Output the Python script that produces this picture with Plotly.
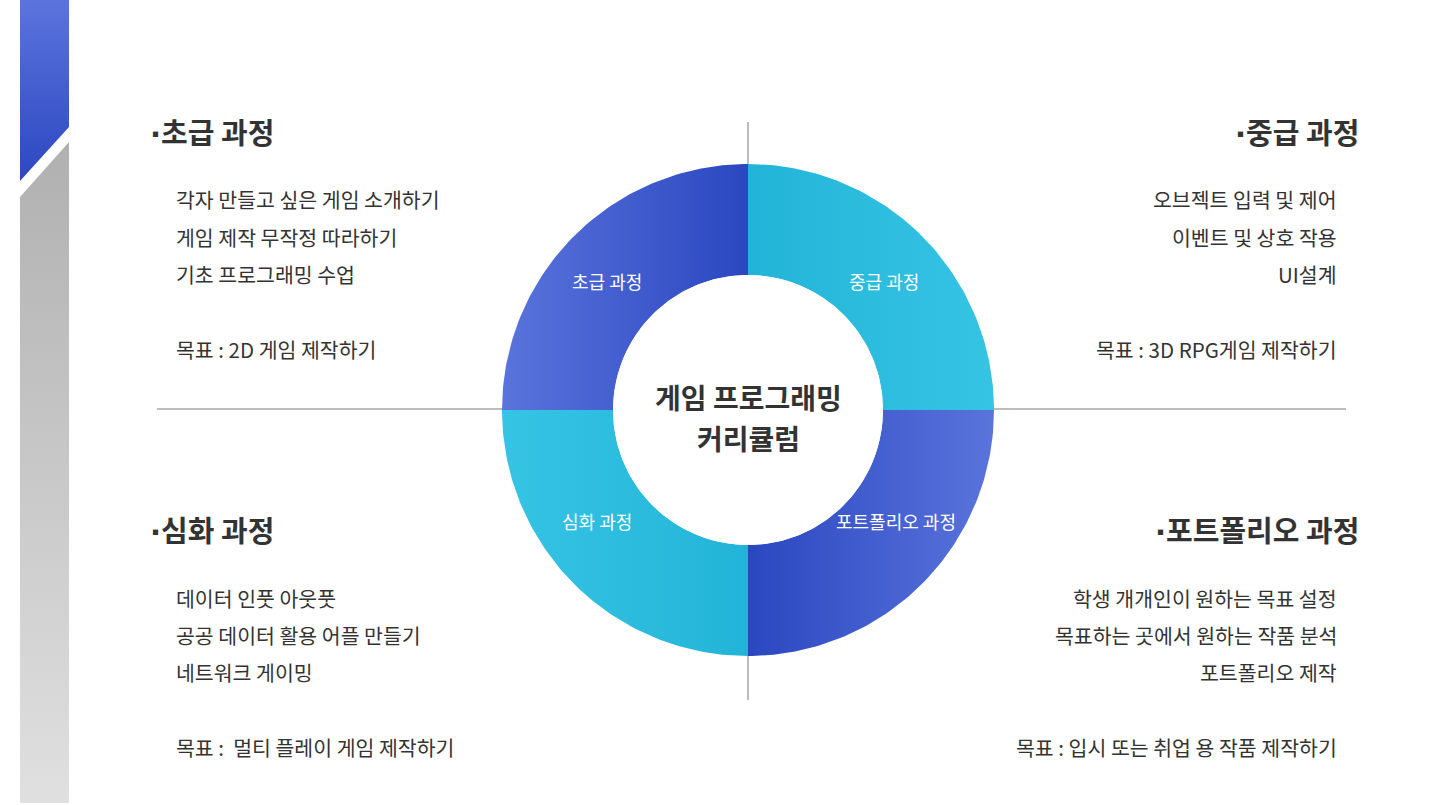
import math
import plotly.graph_objects as go

# ---------------- data ----------------
stages = ["중급 과정", "포트폴리오 과정", "심화 과정", "초급 과정"]  # clockwise from 12 o'clock
stage_values = [1, 1, 1, 1]
center_title = ["게임 프로그래밍", "커리큘럼"]

headings = ["초급 과정", "중급 과정", "심화 과정", "포트폴리오 과정"]
beginner_items = ["각자 만들고 싶은 게임 소개하기", "게임 제작 무작정 따라하기", "기초 프로그래밍 수업"]
beginner_goal = "목표 : 2D 게임 제작하기"
intermediate_items = ["오브젝트 입력 및 제어", "이벤트 및 상호 작용", "UI설계"]
intermediate_goal = "목표 : 3D RPG게임 제작하기"
advanced_items = ["데이터 인풋 아웃풋", "공공 데이터 활용 어플 만들기", "네트워크 게이밍"]
advanced_goal = "목표 :  멀티 플레이 게임 제작하기"
portfolio_items = ["학생 개개인이 원하는 목표 설정", "목표하는 곳에서 원하는 작품 분석", "포트폴리오 제작"]
portfolio_goal = "목표 : 입시 또는 취업 용 작품 제작하기"

# ---------------- styles ----------------
W, H = 1430, 805
CX, CY = 748, 410
R_OUT, R_IN = 246, 135
DARK_L, DARK_D = "#5a74dc", "#2b47c0"
CYAN_D, CYAN_L = "#22b4d8", "#36c4e4"
stage_gradients = {
    "중급 과정": [[0, CYAN_D], [1, CYAN_L]],
    "포트폴리오 과정": [[0, DARK_D], [1, DARK_L]],
    "심화 과정": [[0, CYAN_L], [1, CYAN_D]],
    "초급 과정": [[0, DARK_L], [1, DARK_D]],
}
label_pos = {
    "중급 과정": (884, 281),
    "포트폴리오 과정": (896, 521),
    "심화 과정": (597, 521),
    "초급 과정": (607, 281),
}
FONT = "Noto Sans CJK KR"
TXT = "#333333"
DOT = '<span style="font-family:DejaVu Sans">·</span>'

fig = go.Figure()

# sidebar decoration
fig.add_trace(go.Scatter(
    x=[20, 69, 69, 20, 20], y=[0, 0, 127, 181, 0], mode="lines", line=dict(width=0),
    fill="toself", fillgradient=dict(type="vertical", colorscale=[[0, "#2c47c1"], [1, "#5b74dd"]]),
    hoverinfo="skip", showlegend=False))
fig.add_trace(go.Scatter(
    x=[20, 69, 69, 20, 20], y=[197, 142, 803, 803, 197], mode="lines", line=dict(width=0),
    fill="toself", fillgradient=dict(type="vertical", colorscale=[[0, "#e0e0e0"], [1, "#b0b0b0"]]),
    hoverinfo="skip", showlegend=False))

# cross lines (beneath the donut)
fig.add_shape(type="line", x0=157, x1=1346, y0=409, y1=409, layer="below",
              line=dict(color="#7a7a7a", width=1))
fig.add_shape(type="line", x0=748, x1=748, y0=122, y1=700, layer="below",
              line=dict(color="#7a7a7a", width=1))

# donut segments from values
total = sum(stage_values)
cum = 0
n = 90
for name, v in zip(stages, stage_values):
    a0 = 90 - 360 * cum / total
    a1 = 90 - 360 * (cum + v) / total
    cum += v
    angs = [a0 + (a1 - a0) * i / n for i in range(n + 1)]
    xs = [CX + R_OUT * math.cos(math.radians(a)) for a in angs]
    ys = [CY - R_OUT * math.sin(math.radians(a)) for a in angs]
    xs += [CX + R_IN * math.cos(math.radians(a)) for a in reversed(angs)]
    ys += [CY - R_IN * math.sin(math.radians(a)) for a in reversed(angs)]
    xs.append(xs[0]); ys.append(ys[0])
    fig.add_trace(go.Scatter(
        x=xs, y=ys, mode="lines", line=dict(width=0), fill="toself",
        fillgradient=dict(type="horizontal", colorscale=stage_gradients[name]),
        name=name, hoverinfo="name", showlegend=False))
    lx, ly = label_pos[name]
    fig.add_annotation(x=lx, y=ly, text=name, showarrow=False, xanchor="center", yanchor="middle",
                       font=dict(family=FONT, size=18, color="white"))

# white hole
hole_angs = [360 * i / 240 for i in range(241)]
fig.add_trace(go.Scatter(
    x=[CX + R_IN * math.cos(math.radians(a)) for a in hole_angs],
    y=[CY - R_IN * math.sin(math.radians(a)) for a in hole_angs],
    mode="lines", line=dict(width=0), fill="toself", fillcolor="white",
    hoverinfo="skip", showlegend=False))

# center title
for t, yy in zip(center_title, [397, 438]):
    fig.add_annotation(x=CX, y=yy, text=f"<b>{t}</b>", showarrow=False, xanchor="center", yanchor="middle",
                       font=dict(family=FONT, size=28, color=TXT))

# quadrant texts
def block(heading, items, goal, hx, bx, hy, ys, anchor):
    fig.add_annotation(x=hx, y=hy, text=f"<b>{DOT}{heading}</b>", showarrow=False, xanchor=anchor,
                       yanchor="middle", font=dict(family=FONT, size=29, color=TXT))
    for t, yy in zip(items + [goal], ys):
        fig.add_annotation(x=bx, y=yy, text=t, showarrow=False, xanchor=anchor, yanchor="middle",
                           font=dict(family=FONT, size=20.5, color=TXT))

block(headings[0], beginner_items, beginner_goal, 148, 174, 131, [199, 237, 274, 349], "left")
block(headings[1], intermediate_items, intermediate_goal, 1361, 1339, 131, [199, 237, 274, 349], "right")
block(headings[2], advanced_items, advanced_goal, 148, 174, 529, [598, 635, 672, 747], "left")
block(headings[3], portfolio_items, portfolio_goal, 1361, 1339, 529, [598, 635, 672, 747], "right")

fig.update_layout(
    width=W, height=H, margin=dict(l=0, r=0, t=0, b=0),
    paper_bgcolor="white", plot_bgcolor="white",
    xaxis=dict(range=[0, W], visible=False, fixedrange=True),
    yaxis=dict(range=[H, 0], visible=False, fixedrange=True),
    showlegend=False,
)

fig.write_html("out.html", config={"displayModeBar": False},
               post_script="document.body.style.margin='0';document.body.style.overflow='hidden';")
